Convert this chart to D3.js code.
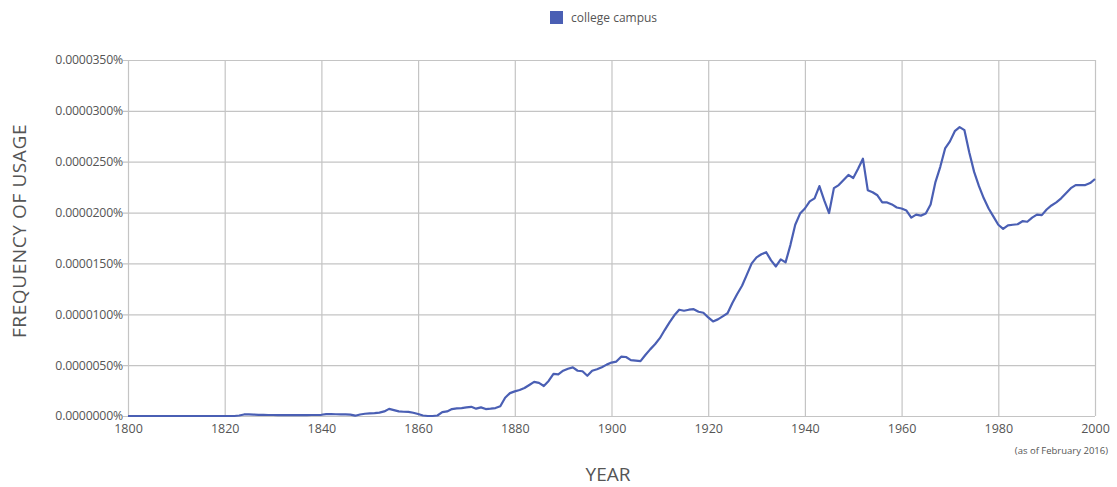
<!DOCTYPE html>
<html>
<head>
<meta charset="utf-8">
<script src="https://cdn.jsdelivr.net/npm/d3@7"></script>
<style>
  html, body { margin: 0; padding: 0; background: #fff; }
  svg { display: block; font-family: "Open Sans", "DejaVu Sans", sans-serif; }
</style>
</head>
<body>
<svg id="chart" width="1117" height="487"></svg>
<script>
// Series: "college campus", yearly frequency in units of 0.0000001% (1e-7 percent)
const seriesName = "college campus";
const startYear = 1800;
const values = [
  // 1800-1809
  0.00, 0.00, 0.00, 0.00, 0.00, 0.00, 0.00, 0.00, 0.00, 0.00,
  // 1810-1819
  0.00, 0.00, 0.00, 0.00, 0.00, 0.00, 0.00, 0.00, 0.00, 0.00,
  // 1820-1829
  0.00, 0.00, 0.00, 0.05, 0.15, 0.15, 0.14, 0.12, 0.12, 0.10,
  // 1830-1839
  0.10, 0.08, 0.08, 0.08, 0.08, 0.08, 0.08, 0.09, 0.10, 0.10,
  // 1840-1849
  0.12, 0.18, 0.18, 0.17, 0.16, 0.16, 0.14, 0.03, 0.15, 0.22,
  // 1850-1859
  0.25, 0.28, 0.33, 0.45, 0.70, 0.58, 0.45, 0.42, 0.40, 0.32,
  // 1860-1869
  0.20, 0.05, 0.00, 0.00, 0.05, 0.38, 0.45, 0.68, 0.75, 0.78,
  // 1870-1879
  0.85, 0.90, 0.72, 0.85, 0.68, 0.72, 0.78, 0.95, 1.80, 2.25,
  // 1880-1889
  2.42, 2.55, 2.75, 3.05, 3.35, 3.25, 2.95, 3.45, 4.15, 4.10,
  // 1890-1899
  4.45, 4.65, 4.78, 4.45, 4.40, 3.96, 4.45, 4.60, 4.80, 5.05,
  // 1900-1909
  5.25, 5.35, 5.83, 5.80, 5.50, 5.45, 5.40, 6.00, 6.55, 7.05,
  // 1910-1919
  7.65, 8.45, 9.20, 9.90, 10.45, 10.35, 10.45, 10.50, 10.25, 10.15,
  // 1920-1929
  9.70, 9.30, 9.50, 9.80, 10.10, 11.10, 12.00, 12.80, 13.90, 15.00,
  // 1930-1939
  15.60, 15.90, 16.10, 15.30, 14.70, 15.40, 15.10, 16.80, 18.80, 19.90,
  // 1940-1949
  20.40, 21.10, 21.40, 22.60, 21.20, 19.95, 22.40, 22.70, 23.20, 23.70,
  // 1950-1959
  23.40, 24.30, 25.30, 22.20, 22.00, 21.70, 21.00, 21.00, 20.80, 20.50,
  // 1960-1969
  20.40, 20.20, 19.50, 19.80, 19.70, 19.90, 20.80, 23.00, 24.50, 26.30,
  // 1970-1979
  27.00, 28.00, 28.40, 28.10, 25.90, 24.00, 22.60, 21.40, 20.40, 19.60,
  // 1980-1989
  18.80, 18.40, 18.75, 18.80, 18.85, 19.15, 19.10, 19.50, 19.80, 19.75,
  // 1990-2000
  20.30, 20.70, 21.00, 21.40, 21.90, 22.40, 22.70, 22.70, 22.70, 22.90, 23.30
];
const years = values.map((_, i) => startYear + i);

const yearTicks = [1800, 1820, 1840, 1860, 1880, 1900, 1920, 1940, 1960, 1980, 2000];
const valueTicks = [0, 5, 10, 15, 20, 25, 30, 35];
const valueTickLabels = ["0.0000000%", "0.0000050%", "0.0000100%", "0.0000150%",
                         "0.0000200%", "0.0000250%", "0.0000300%", "0.0000350%"];
const yTitle = "FREQUENCY OF USAGE";
const xTitle = "YEAR";
const footnote = "(as of February 2016)";

const lineColor = "#4a5fb4";
const gridColor = "#c4c4c4";
const textColor = "#555";

const svg = d3.select("#chart");
const plot = { left: 128, right: 1095, top: 60, bottom: 416 };

const x = d3.scaleLinear().domain([1800, 2000]).range([plot.left, plot.right]);
const y = d3.scaleLinear().domain([0, 35]).range([plot.bottom, plot.top]);

// horizontal grid with left tick labels
const yAxis = d3.axisLeft(y)
  .tickValues(valueTicks)
  .tickSize(-(plot.right - plot.left))
  .tickPadding(5)
  .tickFormat((d, i) => valueTickLabels[i]);
const gy = svg.append("g")
  .attr("transform", `translate(${plot.left},0)`)
  .call(yAxis);
gy.select(".domain").remove();
gy.selectAll(".tick line")
  .attr("x1", -5)
  .attr("stroke", gridColor)
  .attr("stroke-width", 1.2);
gy.selectAll(".tick text")
  .attr("fill", textColor)
  .attr("font-size", 12.3)
  .attr("letter-spacing", -0.2)
  .attr("font-family", "'Open Sans', sans-serif");

// vertical grid with bottom year labels
const xAxis = d3.axisBottom(x)
  .tickValues(yearTicks)
  .tickSize(-(plot.bottom - plot.top))
  .tickPadding(8)
  .tickFormat(d3.format("d"));
const gx = svg.append("g")
  .attr("transform", `translate(0,${plot.bottom})`)
  .call(xAxis);
gx.select(".domain").remove();
gx.selectAll(".tick line")
  .attr("stroke", gridColor)
  .attr("stroke-width", 1.2);
gx.selectAll(".tick text")
  .attr("fill", textColor)
  .attr("font-size", 12.5)
  .attr("font-family", "'Open Sans', sans-serif");

// series line
const line = d3.line()
  .x((d, i) => x(years[i]))
  .y(d => y(d));
svg.append("path")
  .datum(values)
  .attr("fill", "none")
  .attr("stroke", lineColor)
  .attr("stroke-width", 2.2)
  .attr("stroke-linejoin", "round")
  .attr("d", line);

// legend
const legend = svg.append("g").attr("transform", "translate(550,11)");
legend.append("rect")
  .attr("width", 13).attr("height", 13)
  .attr("fill", lineColor);
legend.append("text")
  .attr("x", 21).attr("y", 11)
  .attr("fill", textColor)
  .attr("font-size", 12)
  .text(seriesName);

// axis titles
svg.append("text")
  .attr("transform", `translate(26,${(plot.top + plot.bottom) / 2 - 7}) rotate(-90)`)
  .attr("text-anchor", "middle")
  .attr("fill", textColor)
  .attr("font-size", 19)
  .attr("letter-spacing", 0.6)
  .text(yTitle);

svg.append("text")
  .attr("x", 608).attr("y", 481)
  .attr("text-anchor", "middle")
  .attr("fill", textColor)
  .attr("font-size", 19)
  .text(xTitle);

svg.append("text")
  .attr("x", 1108).attr("y", 454)
  .attr("text-anchor", "end")
  .attr("fill", textColor)
  .attr("font-size", 9.5)
  .text(footnote);
</script>
</body>
</html>
